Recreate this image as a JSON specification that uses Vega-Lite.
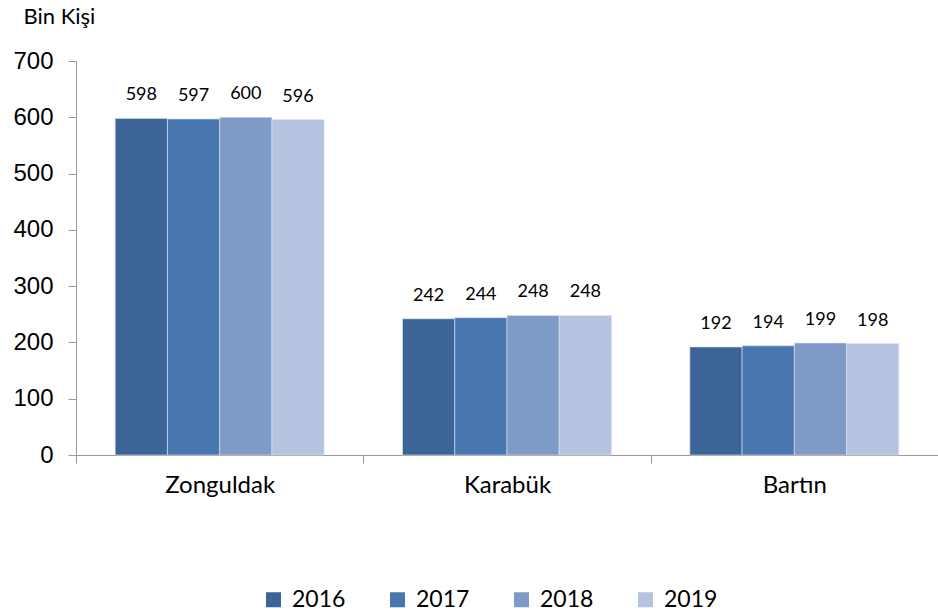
{
  "$schema": "https://vega.github.io/schema/vega-lite/v6.json",
  "autosize": "none",
  "width": 862,
  "height": 394,
  "padding": {"left": 76, "top": 61, "right": 0, "bottom": 159},
  "background": "white",
  "config": {"view": {"stroke": null}},
  "data": {"values": [
    {"region": "Zonguldak", "year": "2016", "value": 598},
    {"region": "Zonguldak", "year": "2017", "value": 597},
    {"region": "Zonguldak", "year": "2018", "value": 600},
    {"region": "Zonguldak", "year": "2019", "value": 596},
    {"region": "Karabük", "year": "2016", "value": 242},
    {"region": "Karabük", "year": "2017", "value": 244},
    {"region": "Karabük", "year": "2018", "value": 248},
    {"region": "Karabük", "year": "2019", "value": 248},
    {"region": "Bartın", "year": "2016", "value": 192},
    {"region": "Bartın", "year": "2017", "value": 194},
    {"region": "Bartın", "year": "2018", "value": 199},
    {"region": "Bartın", "year": "2019", "value": 198}
  ]},
  "encoding": {
    "x": {"field": "region", "type": "nominal", "sort": ["Zonguldak", "Karabük", "Bartın"],
      "scale": {"paddingInner": 0, "paddingOuter": 0},
      "axis": {"title": null, "labelAngle": 0, "tickBand": "extent", "domainColor": "#999999", "tickColor": "#999999", "tickSize": 8, "labelPadding": 10, "labelFont": "Lato", "labelFontSize": 24, "labelColor": "#000000"}},
    "xOffset": {"field": "year", "type": "nominal", "scale": {"paddingInner": 0, "paddingOuter": 0.75}},
    "y": {"field": "value", "type": "quantitative", "scale": {"domain": [0, 700]},
      "axis": {"title": "Bin Kişi", "titleAngle": 0, "titleAlign": "left", "titleBaseline": "alphabetic", "titleX": -53, "titleY": -38, "titleFont": "Lato", "titleFontSize": 22, "titleFontWeight": "normal", "titleColor": "#000000",
        "values": [0, 100, 200, 300, 400, 500, 600, 700], "grid": false, "domainColor": "#999999", "tickColor": "#999999", "tickSize": 8, "labelPadding": 15, "labelFont": "Liberation Sans", "labelFontSize": 24, "labelColor": "#000000"}}
  },
  "layer": [
    {"mark": {"type": "bar", "stroke": "#dfe6f0", "strokeWidth": 0.6},
      "encoding": {"color": {"field": "year", "type": "nominal",
        "scale": {"domain": ["2016", "2017", "2018", "2019"], "range": ["#3C6496", "#4877B0", "#7E9BC8", "#B4C3DF"]},
        "legend": {"title": null, "orient": "none", "direction": "horizontal", "legendX": 186, "legendY": 527, "symbolType": "square", "symbolSize": 225, "symbolStrokeWidth": 0, "labelFont": "Lato", "labelFontSize": 23, "labelColor": "#000000", "columnPadding": 40, "labelOffset": 7}}}},
    {"mark": {"type": "text", "baseline": "alphabetic", "dy": -18, "font": "Lato", "fontSize": 18, "color": "#000000"},
      "encoding": {"text": {"field": "value", "type": "quantitative"}}}
  ]
}
